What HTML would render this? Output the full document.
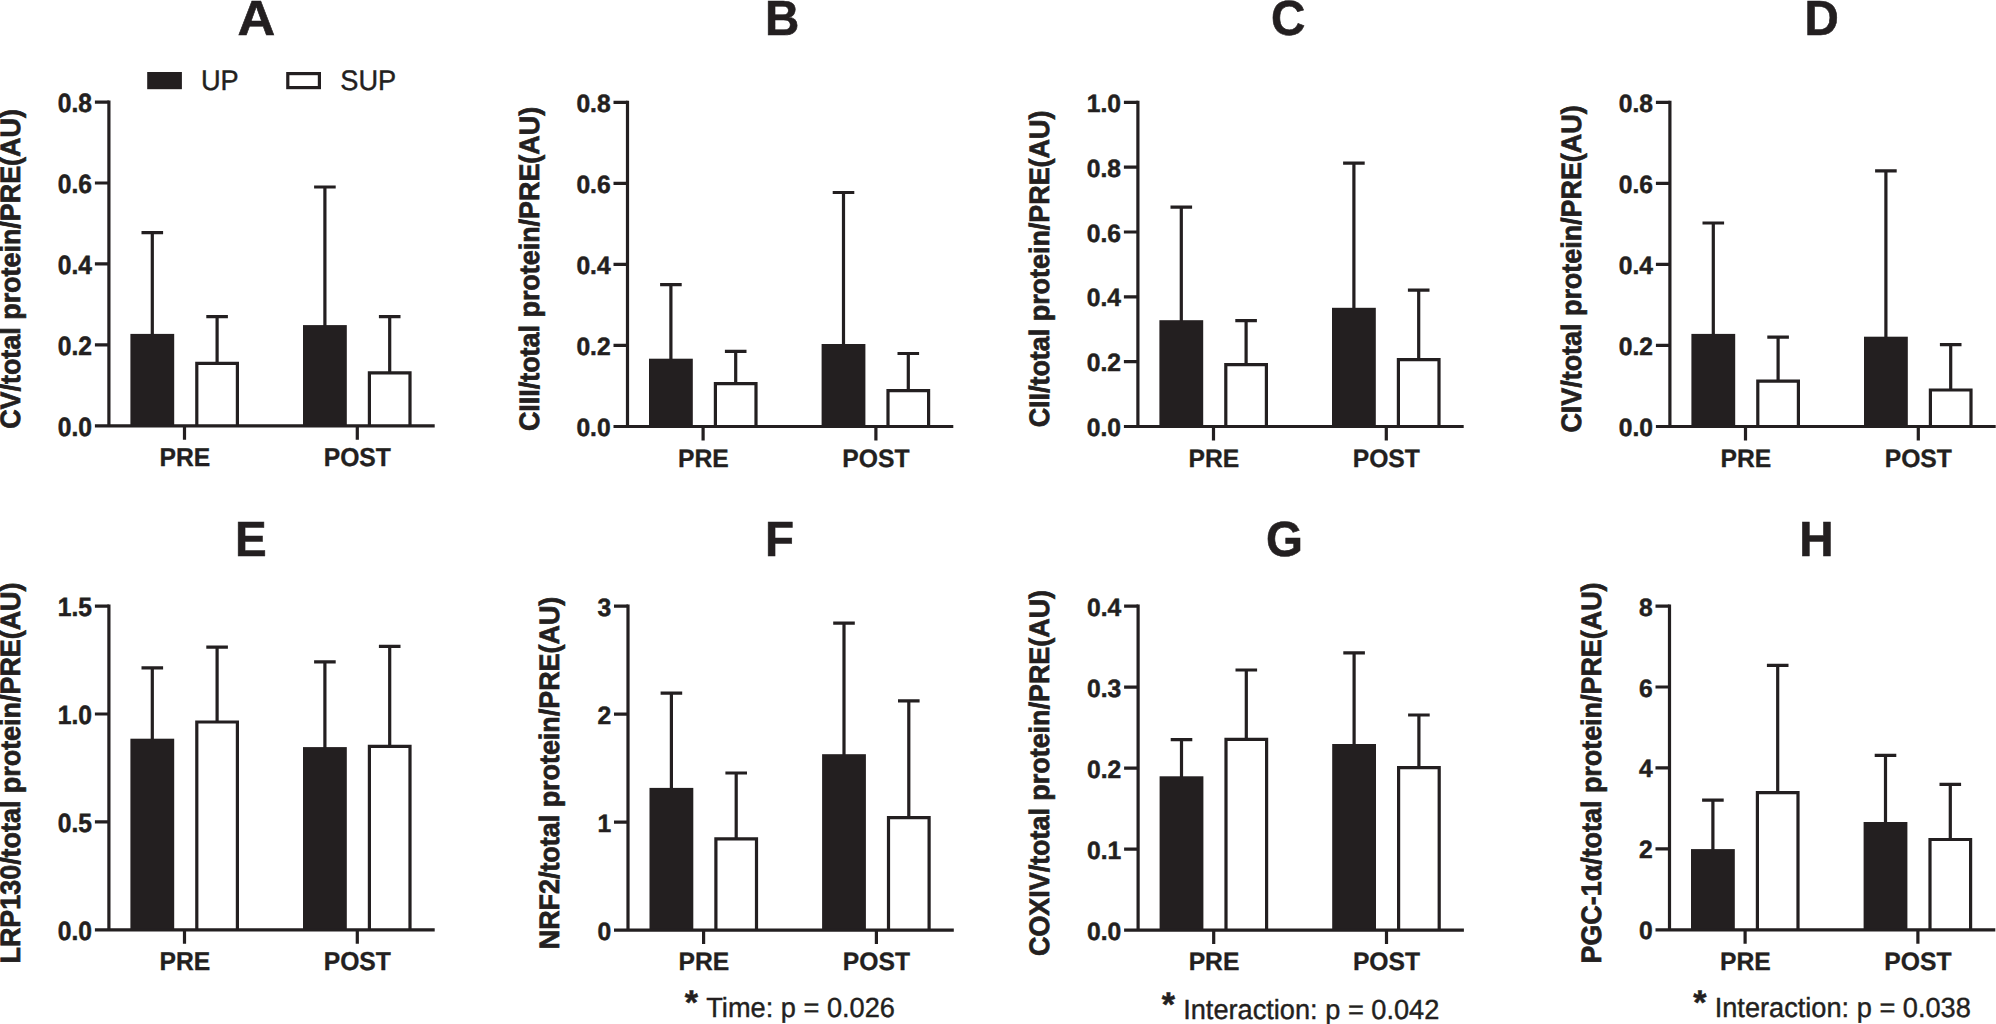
<!DOCTYPE html>
<html lang="en">
<head>
<meta charset="utf-8">
<title>Figure: mitochondrial protein content PRE vs POST (UP / SUP)</title>
<style>
html,body{margin:0;padding:0;background:#fff;}
body{width:1996px;height:1024px;overflow:hidden;}
svg{display:block;text-rendering:geometricPrecision;font-family:'Liberation Sans', sans-serif;fill:#231f20;}
.t{stroke:#231f20;stroke-width:0.5;}
.yl{stroke:#231f20;stroke-width:0.7;}
.xl{stroke:#231f20;stroke-width:0.3;}
.ti{stroke:#231f20;stroke-width:0.6;}
.r{stroke:#231f20;stroke-width:0.4;}
.s{stroke:#231f20;stroke-width:3.2;fill:none;stroke-linecap:butt;stroke-linejoin:miter;}
rect.s,.w{fill:#fff;}
</style>
</head>
<body>
<svg width="1996" height="1024" viewBox="0 0 1996 1024">
<rect x="0" y="0" width="1996" height="1024" fill="#fff"/>
<g>
<path d="M152.30 335.90V232.60M141.50 232.60H163.10" class="s"/>
<path d="M217.10 363.70V316.60M206.30 316.60H227.90" class="s"/>
<path d="M324.90 327.10V187.00M314.10 187.00H335.70" class="s"/>
<path d="M389.70 373.30V316.60M378.90 316.60H400.50" class="s"/>
<rect x="130.40" y="333.90" width="43.8" height="92.00" fill="#231f20"/>
<path d="M196.80 425.90V363.30H237.40V425.90" class="s w"/>
<rect x="303.00" y="325.10" width="43.8" height="100.80" fill="#231f20"/>
<path d="M369.40 425.90V372.90H410.00V425.90" class="s w"/>
<path d="M108.90 100.45V425.90M94.90 425.90H434.70" class="s"/>
<text transform="translate(92.00 435.60) scale(1 1.07)" font-size="24.6" font-weight="bold" text-anchor="end" class="t">0.0</text>
<text transform="translate(92.00 354.64) scale(1 1.07)" font-size="24.6" font-weight="bold" text-anchor="end" class="t">0.2</text>
<text transform="translate(92.00 273.67) scale(1 1.07)" font-size="24.6" font-weight="bold" text-anchor="end" class="t">0.4</text>
<text transform="translate(92.00 192.71) scale(1 1.07)" font-size="24.6" font-weight="bold" text-anchor="end" class="t">0.6</text>
<text transform="translate(92.00 111.75) scale(1 1.07)" font-size="24.6" font-weight="bold" text-anchor="end" class="t">0.8</text>
<path d="M94.90 344.94H108.90M94.90 263.97H108.90M94.90 183.01H108.90M94.90 102.05H108.90M184.50 425.90V439.80M357.30 425.90V439.80" class="s"/>
<text transform="translate(184.80 466.20) scale(1 1.05)" font-size="24.7" font-weight="bold" text-anchor="middle" class="xl">PRE</text>
<text transform="translate(357.30 466.20) scale(1 1.05)" font-size="24.7" font-weight="bold" text-anchor="middle" class="xl">POST</text>
<text transform="translate(19.60 269.00) rotate(-90) scale(1 1.045)" class="yl" font-size="26.9" font-weight="bold" text-anchor="middle">CV/total protein/PRE(AU)</text>
<text transform="translate(237.49 34.90) scale(1.1 1.04)" class="ti" font-size="47.5" font-weight="bold">A</text>
</g>
<g>
<path d="M670.90 360.70V284.60M660.10 284.60H681.70" class="s"/>
<path d="M735.70 384.00V351.30M724.90 351.30H746.50" class="s"/>
<path d="M843.50 346.00V192.50M832.70 192.50H854.30" class="s"/>
<path d="M908.30 391.10V353.50M897.50 353.50H919.10" class="s"/>
<rect x="649.00" y="358.70" width="43.8" height="67.80" fill="#231f20"/>
<path d="M715.40 426.50V383.60H756.00V426.50" class="s w"/>
<rect x="821.60" y="344.00" width="43.8" height="82.50" fill="#231f20"/>
<path d="M888.00 426.50V390.70H928.60V426.50" class="s w"/>
<path d="M627.50 100.75V426.50M613.50 426.50H953.30" class="s"/>
<text transform="translate(610.60 436.00) scale(1 1.02)" font-size="24.6" font-weight="bold" text-anchor="end" class="t">0.0</text>
<text transform="translate(610.60 354.96) scale(1 1.02)" font-size="24.6" font-weight="bold" text-anchor="end" class="t">0.2</text>
<text transform="translate(610.60 273.93) scale(1 1.02)" font-size="24.6" font-weight="bold" text-anchor="end" class="t">0.4</text>
<text transform="translate(610.60 192.89) scale(1 1.02)" font-size="24.6" font-weight="bold" text-anchor="end" class="t">0.6</text>
<text transform="translate(610.60 111.85) scale(1 1.02)" font-size="24.6" font-weight="bold" text-anchor="end" class="t">0.8</text>
<path d="M613.50 345.46H627.50M613.50 264.43H627.50M613.50 183.39H627.50M613.50 102.35H627.50M703.10 426.50V440.40M875.90 426.50V440.40" class="s"/>
<text transform="translate(703.40 466.80) scale(1 1.015)" font-size="24.7" font-weight="bold" text-anchor="middle" class="xl">PRE</text>
<text transform="translate(875.90 466.80) scale(1 1.015)" font-size="24.7" font-weight="bold" text-anchor="middle" class="xl">POST</text>
<text transform="translate(538.50 269.00) rotate(-90) scale(1 1.045)" class="yl" font-size="26.9" font-weight="bold" text-anchor="middle">CIII/total protein/PRE(AU)</text>
<text transform="translate(765.01 34.90) scale(1 1.04)" font-size="47.5" font-weight="bold" text-anchor="start" class="ti">B</text>
</g>
<g>
<path d="M1181.30 322.20V207.10M1170.50 207.10H1192.10" class="s"/>
<path d="M1246.10 365.00V320.70M1235.30 320.70H1256.90" class="s"/>
<path d="M1353.90 309.80V163.20M1343.10 163.20H1364.70" class="s"/>
<path d="M1418.70 360.10V290.10M1407.90 290.10H1429.50" class="s"/>
<rect x="1159.40" y="320.20" width="43.8" height="106.30" fill="#231f20"/>
<path d="M1225.80 426.50V364.60H1266.40V426.50" class="s w"/>
<rect x="1332.00" y="307.80" width="43.8" height="118.70" fill="#231f20"/>
<path d="M1398.40 426.50V359.70H1439.00V426.50" class="s w"/>
<path d="M1137.90 100.75V426.50M1123.90 426.50H1463.70" class="s"/>
<text transform="translate(1121.00 436.00) scale(1 1.02)" font-size="24.6" font-weight="bold" text-anchor="end" class="t">0.0</text>
<text transform="translate(1121.00 371.17) scale(1 1.02)" font-size="24.6" font-weight="bold" text-anchor="end" class="t">0.2</text>
<text transform="translate(1121.00 306.34) scale(1 1.02)" font-size="24.6" font-weight="bold" text-anchor="end" class="t">0.4</text>
<text transform="translate(1121.00 241.51) scale(1 1.02)" font-size="24.6" font-weight="bold" text-anchor="end" class="t">0.6</text>
<text transform="translate(1121.00 176.68) scale(1 1.02)" font-size="24.6" font-weight="bold" text-anchor="end" class="t">0.8</text>
<text transform="translate(1121.00 111.85) scale(1 1.02)" font-size="24.6" font-weight="bold" text-anchor="end" class="t">1.0</text>
<path d="M1123.90 361.67H1137.90M1123.90 296.84H1137.90M1123.90 232.01H1137.90M1123.90 167.18H1137.90M1123.90 102.35H1137.90M1213.50 426.50V440.40M1386.30 426.50V440.40" class="s"/>
<text transform="translate(1213.80 466.80) scale(1 1.015)" font-size="24.7" font-weight="bold" text-anchor="middle" class="xl">PRE</text>
<text transform="translate(1386.30 466.80) scale(1 1.015)" font-size="24.7" font-weight="bold" text-anchor="middle" class="xl">POST</text>
<text transform="translate(1048.90 269.00) rotate(-90) scale(1 1.045)" class="yl" font-size="26.9" font-weight="bold" text-anchor="middle">CII/total protein/PRE(AU)</text>
<text transform="translate(1271.00 34.90) scale(1 1.04)" font-size="47.5" font-weight="bold" text-anchor="start" class="ti">C</text>
</g>
<g>
<path d="M1713.30 335.90V223.00M1702.50 223.00H1724.10" class="s"/>
<path d="M1778.10 381.60V337.20M1767.30 337.20H1788.90" class="s"/>
<path d="M1885.90 338.70V170.90M1875.10 170.90H1896.70" class="s"/>
<path d="M1950.70 390.40V344.60M1939.90 344.60H1961.50" class="s"/>
<rect x="1691.40" y="333.90" width="43.8" height="92.60" fill="#231f20"/>
<path d="M1757.80 426.50V381.20H1798.40V426.50" class="s w"/>
<rect x="1864.00" y="336.70" width="43.8" height="89.80" fill="#231f20"/>
<path d="M1930.40 426.50V390.00H1971.00V426.50" class="s w"/>
<path d="M1669.90 100.75V426.50M1655.90 426.50H1995.70" class="s"/>
<text transform="translate(1653.00 436.00) scale(1 1.02)" font-size="24.6" font-weight="bold" text-anchor="end" class="t">0.0</text>
<text transform="translate(1653.00 354.96) scale(1 1.02)" font-size="24.6" font-weight="bold" text-anchor="end" class="t">0.2</text>
<text transform="translate(1653.00 273.93) scale(1 1.02)" font-size="24.6" font-weight="bold" text-anchor="end" class="t">0.4</text>
<text transform="translate(1653.00 192.89) scale(1 1.02)" font-size="24.6" font-weight="bold" text-anchor="end" class="t">0.6</text>
<text transform="translate(1653.00 111.85) scale(1 1.02)" font-size="24.6" font-weight="bold" text-anchor="end" class="t">0.8</text>
<path d="M1655.90 345.46H1669.90M1655.90 264.43H1669.90M1655.90 183.39H1669.90M1655.90 102.35H1669.90M1745.50 426.50V440.40M1918.30 426.50V440.40" class="s"/>
<text transform="translate(1745.80 466.80) scale(1 1.015)" font-size="24.7" font-weight="bold" text-anchor="middle" class="xl">PRE</text>
<text transform="translate(1918.30 466.80) scale(1 1.015)" font-size="24.7" font-weight="bold" text-anchor="middle" class="xl">POST</text>
<text transform="translate(1580.90 269.00) rotate(-90) scale(1 1.045)" class="yl" font-size="26.9" font-weight="bold" text-anchor="middle">CIV/total protein/PRE(AU)</text>
<text transform="translate(1804.61 34.90) scale(1 1.04)" font-size="47.5" font-weight="bold" text-anchor="start" class="ti">D</text>
</g>
<g>
<path d="M152.30 740.70V667.90M141.50 667.90H163.10" class="s"/>
<path d="M217.10 722.40V647.10M206.30 647.10H227.90" class="s"/>
<path d="M324.90 749.10V661.90M314.10 661.90H335.70" class="s"/>
<path d="M389.70 746.70V646.40M378.90 646.40H400.50" class="s"/>
<rect x="130.40" y="738.70" width="43.8" height="191.20" fill="#231f20"/>
<path d="M196.80 929.90V722.00H237.40V929.90" class="s w"/>
<rect x="303.00" y="747.10" width="43.8" height="182.80" fill="#231f20"/>
<path d="M369.40 929.90V746.30H410.00V929.90" class="s w"/>
<path d="M108.90 604.45V929.90M94.90 929.90H434.70" class="s"/>
<text transform="translate(92.00 939.60) scale(1 1.07)" font-size="24.6" font-weight="bold" text-anchor="end" class="t">0.0</text>
<text transform="translate(92.00 831.65) scale(1 1.07)" font-size="24.6" font-weight="bold" text-anchor="end" class="t">0.5</text>
<text transform="translate(92.00 723.70) scale(1 1.07)" font-size="24.6" font-weight="bold" text-anchor="end" class="t">1.0</text>
<text transform="translate(92.00 615.75) scale(1 1.07)" font-size="24.6" font-weight="bold" text-anchor="end" class="t">1.5</text>
<path d="M94.90 821.95H108.90M94.90 714.00H108.90M94.90 606.05H108.90M184.50 929.90V943.80M357.30 929.90V943.80" class="s"/>
<text transform="translate(184.80 970.20) scale(1 1.05)" font-size="24.7" font-weight="bold" text-anchor="middle" class="xl">PRE</text>
<text transform="translate(357.30 970.20) scale(1 1.05)" font-size="24.7" font-weight="bold" text-anchor="middle" class="xl">POST</text>
<text transform="translate(19.90 773.00) rotate(-90) scale(1 1.045)" class="yl" font-size="26.9" font-weight="bold" text-anchor="middle">LRP130/total protein/PRE(AU)</text>
<text transform="translate(234.91 555.80) scale(1 1.04)" font-size="47.5" font-weight="bold" text-anchor="start" class="ti">E</text>
</g>
<g>
<path d="M671.40 789.90V693.20M660.60 693.20H682.20" class="s"/>
<path d="M736.20 839.20V773.00M725.40 773.00H747.00" class="s"/>
<path d="M844.00 756.20V623.20M833.20 623.20H854.80" class="s"/>
<path d="M908.80 818.10V700.90M898.00 700.90H919.60" class="s"/>
<rect x="649.50" y="787.90" width="43.8" height="142.15" fill="#231f20"/>
<path d="M715.90 930.05V838.80H756.50V930.05" class="s w"/>
<rect x="822.10" y="754.20" width="43.8" height="175.85" fill="#231f20"/>
<path d="M888.50 930.05V817.70H929.10V930.05" class="s w"/>
<path d="M628.00 604.50V930.05M614.00 930.05H953.80" class="s"/>
<text transform="translate(611.10 939.55) scale(1 1.02)" font-size="24.6" font-weight="bold" text-anchor="end" class="t">0</text>
<text transform="translate(611.10 831.57) scale(1 1.02)" font-size="24.6" font-weight="bold" text-anchor="end" class="t">1</text>
<text transform="translate(611.10 723.58) scale(1 1.02)" font-size="24.6" font-weight="bold" text-anchor="end" class="t">2</text>
<text transform="translate(611.10 615.60) scale(1 1.02)" font-size="24.6" font-weight="bold" text-anchor="end" class="t">3</text>
<path d="M614.00 822.07H628.00M614.00 714.08H628.00M614.00 606.10H628.00M703.60 930.05V943.95M876.40 930.05V943.95" class="s"/>
<text transform="translate(703.90 970.35) scale(1 1.015)" font-size="24.7" font-weight="bold" text-anchor="middle" class="xl">PRE</text>
<text transform="translate(876.40 970.35) scale(1 1.015)" font-size="24.7" font-weight="bold" text-anchor="middle" class="xl">POST</text>
<text transform="translate(559.30 773.00) rotate(-90) scale(1 1.045)" class="yl" font-size="26.9" font-weight="bold" text-anchor="middle">NRF2/total protein/PRE(AU)</text>
<text transform="translate(764.91 555.80) scale(1 1.04)" font-size="47.5" font-weight="bold" text-anchor="start" class="ti">F</text>
</g>
<g>
<path d="M1181.50 778.30V739.60M1170.70 739.60H1192.30" class="s"/>
<path d="M1246.30 739.70V670.00M1235.50 670.00H1257.10" class="s"/>
<path d="M1354.10 746.00V652.80M1343.30 652.80H1364.90" class="s"/>
<path d="M1418.90 768.10V715.00M1408.10 715.00H1429.70" class="s"/>
<rect x="1159.60" y="776.30" width="43.8" height="153.75" fill="#231f20"/>
<path d="M1226.00 930.05V739.30H1266.60V930.05" class="s w"/>
<rect x="1332.20" y="744.00" width="43.8" height="186.05" fill="#231f20"/>
<path d="M1398.60 930.05V767.70H1439.20V930.05" class="s w"/>
<path d="M1138.10 604.50V930.05M1124.10 930.05H1463.90" class="s"/>
<text transform="translate(1121.20 939.55) scale(1 1.02)" font-size="24.6" font-weight="bold" text-anchor="end" class="t">0.0</text>
<text transform="translate(1121.20 858.56) scale(1 1.02)" font-size="24.6" font-weight="bold" text-anchor="end" class="t">0.1</text>
<text transform="translate(1121.20 777.57) scale(1 1.02)" font-size="24.6" font-weight="bold" text-anchor="end" class="t">0.2</text>
<text transform="translate(1121.20 696.59) scale(1 1.02)" font-size="24.6" font-weight="bold" text-anchor="end" class="t">0.3</text>
<text transform="translate(1121.20 615.60) scale(1 1.02)" font-size="24.6" font-weight="bold" text-anchor="end" class="t">0.4</text>
<path d="M1124.10 849.06H1138.10M1124.10 768.07H1138.10M1124.10 687.09H1138.10M1124.10 606.10H1138.10M1213.70 930.05V943.95M1386.50 930.05V943.95" class="s"/>
<text transform="translate(1214.00 970.35) scale(1 1.015)" font-size="24.7" font-weight="bold" text-anchor="middle" class="xl">PRE</text>
<text transform="translate(1386.50 970.35) scale(1 1.015)" font-size="24.7" font-weight="bold" text-anchor="middle" class="xl">POST</text>
<text transform="translate(1049.10 773.00) rotate(-90) scale(1 1.045)" class="yl" font-size="26.9" font-weight="bold" text-anchor="middle">COXIV/total protein/PRE(AU)</text>
<text transform="translate(1266.10 555.80) scale(1 1.04)" font-size="47.5" font-weight="bold" text-anchor="start" class="ti">G</text>
</g>
<g>
<path d="M1712.90 851.10V800.10M1702.10 800.10H1723.70" class="s"/>
<path d="M1777.70 793.10V665.40M1766.90 665.40H1788.50" class="s"/>
<path d="M1885.50 824.00V755.40M1874.70 755.40H1896.30" class="s"/>
<path d="M1950.30 839.90V784.30M1939.50 784.30H1961.10" class="s"/>
<rect x="1691.00" y="849.10" width="43.8" height="80.80" fill="#231f20"/>
<path d="M1757.40 929.90V792.70H1798.00V929.90" class="s w"/>
<rect x="1863.60" y="822.00" width="43.8" height="107.90" fill="#231f20"/>
<path d="M1930.00 929.90V839.50H1970.60V929.90" class="s w"/>
<path d="M1669.50 604.45V929.90M1655.50 929.90H1995.30" class="s"/>
<text transform="translate(1652.60 939.40) scale(1 1.02)" font-size="24.6" font-weight="bold" text-anchor="end" class="t">0</text>
<text transform="translate(1652.60 858.44) scale(1 1.02)" font-size="24.6" font-weight="bold" text-anchor="end" class="t">2</text>
<text transform="translate(1652.60 777.47) scale(1 1.02)" font-size="24.6" font-weight="bold" text-anchor="end" class="t">4</text>
<text transform="translate(1652.60 696.51) scale(1 1.02)" font-size="24.6" font-weight="bold" text-anchor="end" class="t">6</text>
<text transform="translate(1652.60 615.55) scale(1 1.02)" font-size="24.6" font-weight="bold" text-anchor="end" class="t">8</text>
<path d="M1655.50 848.94H1669.50M1655.50 767.97H1669.50M1655.50 687.01H1669.50M1655.50 606.05H1669.50M1745.10 929.90V943.80M1917.90 929.90V943.80" class="s"/>
<text transform="translate(1745.40 970.20) scale(1 1.015)" font-size="24.7" font-weight="bold" text-anchor="middle" class="xl">PRE</text>
<text transform="translate(1917.90 970.20) scale(1 1.015)" font-size="24.7" font-weight="bold" text-anchor="middle" class="xl">POST</text>
<text transform="translate(1601.30 773.00) rotate(-90) scale(1 1.045)" class="yl" font-size="26.9" font-weight="bold" text-anchor="middle">PGC-1α/total protein/PRE(AU)</text>
<text transform="translate(1799.31 555.80) scale(1 1.04)" font-size="47.5" font-weight="bold" text-anchor="start" class="ti">H</text>
</g>
<rect x="147.2" y="72" width="34.7" height="17.2" fill="#231f20"/>
<rect x="287.80" y="73.60" width="31.60" height="14.00" fill="#fff" class="s"/>
<text transform="translate(200.96 89.70) scale(1 1.04)" font-size="27.2" font-weight="normal" text-anchor="start" class="r">UP</text>
<text transform="translate(340.28 89.70) scale(1 1.04)" font-size="27.2" font-weight="normal" text-anchor="start" class="r">SUP</text>
<text x="684.83" y="1014.00" font-size="34" font-weight="bold" text-anchor="start" class="t">*</text>
<text transform="translate(706.26 1017.00) scale(1 1.02)" font-size="27.2" font-weight="normal" text-anchor="start" class="r">Time: p = 0.026</text>
<text x="1161.83" y="1016.00" font-size="34" font-weight="bold" text-anchor="start" class="t">*</text>
<text transform="translate(1183.15 1019.00) scale(1 1.02)" font-size="27.2" font-weight="normal" text-anchor="start" class="r">Interaction: p = 0.042</text>
<text x="1693.13" y="1014.00" font-size="34" font-weight="bold" text-anchor="start" class="t">*</text>
<text transform="translate(1714.65 1017.00) scale(1 1.02)" font-size="27.2" font-weight="normal" text-anchor="start" class="r">Interaction: p = 0.038</text>
</svg>
</body>
</html>
